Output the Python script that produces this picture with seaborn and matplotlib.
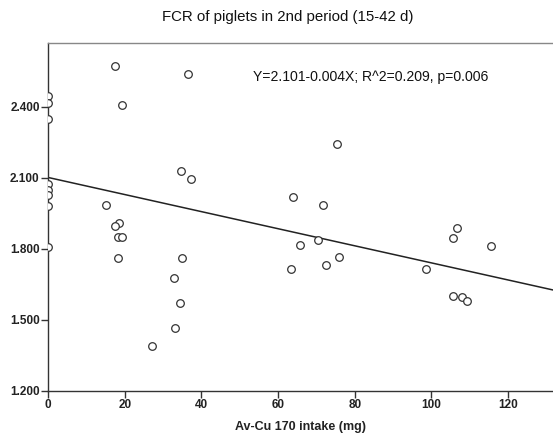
import matplotlib
matplotlib.use("Agg")
import matplotlib.pyplot as plt
import seaborn as sns
import numpy as np
import pandas as pd
from matplotlib.ticker import FormatStrFormatter

cu_intake = [0, 0, 0, 0, 0, 0, 0, 0,
             17.6, 36.5, 19.4, 34.8, 37.3, 15.2, 18.6, 17.4, 18.3, 19.4,
             18.3, 34.9, 32.9, 34.5, 33.0, 27.2,
             75.4, 63.8, 71.6, 65.6, 70.3, 63.5, 72.5, 75.8,
             106.6, 105.6, 115.5, 98.5, 105.6, 108.0, 109.3]
fcr = [2.446, 2.414, 2.349, 2.073, 2.049, 2.026, 1.980, 1.807,
       2.572, 2.537, 2.406, 2.128, 2.093, 1.985, 1.910, 1.896, 1.851, 1.851,
       1.759, 1.762, 1.677, 1.569, 1.465, 1.390,
       2.241, 2.017, 1.986, 1.817, 1.837, 1.714, 1.731, 1.766,
       1.889, 1.844, 1.811, 1.715, 1.600, 1.595, 1.580]
intercept = 2.101
slope = -0.00361
x_ticks = [0, 20, 40, 60, 80, 100, 120]
y_ticks = [1.2, 1.5, 1.8, 2.1, 2.4]
title = "FCR of piglets in 2nd period (15-42 d)"
xlabel = "Av-Cu 170 intake (mg)"
annotation = "Y=2.101-0.004X; R^2=0.209, p=0.006"

sns.set_style("white")
plt.rcParams['font.family'] = ['Liberation Sans', 'DejaVu Sans']

df = pd.DataFrame({"x": cu_intake, "y": fcr})
fig = plt.figure(figsize=(5.53, 4.38), dpi=100)
ax = fig.add_axes([48/553, 1 - 390.7/438, 1 - 48/553, (390.7 - 43)/438])

xmin, xmax = 0, 131.7
line_x = np.array([xmin, xmax])
line_df = pd.DataFrame({"x": line_x, "y": intercept + slope * line_x})
sns.lineplot(data=line_df, x="x", y="y", ax=ax, color="#222222", linewidth=1.1)
sns.scatterplot(data=df, x="x", y="y", ax=ax, marker="o", s=30,
                facecolor="white", edgecolor="#333333", linewidth=0.9, zorder=3)

ax.set_xlim(xmin, xmax)
ax.set_ylim(1.2, 2.669)
ax.set_xticks(x_ticks)
ax.set_yticks(y_ticks)
ax.yaxis.set_major_formatter(FormatStrFormatter('%.3f'))
ax.tick_params(axis='both', direction='out', length=5, width=1, color="#333333",
               labelsize=8.5, pad=1, bottom=True, left=True)
for lab in ax.get_xticklabels() + ax.get_yticklabels():
    lab.set_fontweight('bold')
    lab.set_color("#222222")

ax.spines['left'].set_color("#333333")
ax.spines['bottom'].set_color("#333333")
ax.spines['top'].set_color("#888888")
ax.spines['right'].set_visible(False)
for s in ['left', 'bottom', 'top']:
    ax.spines[s].set_linewidth(1.0)

ax.set_xlabel(xlabel, fontsize=9, fontweight='bold', color="#222222", labelpad=7)
ax.set_ylabel("")
fig.text(288/553, 1 - 17/438, title, ha='center', va='center', fontsize=10.8, color="#111111")
ax.text(371/553, 1 - 77/438, annotation, transform=fig.transFigure, ha='center', va='center',
        fontsize=10.1, color="#111111")

fig.savefig("out.png", dpi=100)
